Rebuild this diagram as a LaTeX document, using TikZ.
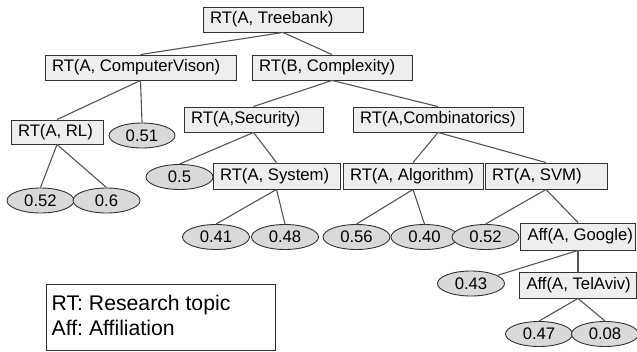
\documentclass[tikz,border=0pt]{standalone}
\usepackage{fontspec}
\setmainfont[Ligatures=CommonOff]{Liberation Sans}
\usetikzlibrary{shapes.geometric}
\definecolor{edgec}{HTML}{555555}
\definecolor{linec}{HTML}{333333}
\definecolor{boxf}{HTML}{EEEEEE}
\definecolor{ellf}{HTML}{D9D9D9}
\frenchspacing
\newcommand\lbtext[2]{\makebox[\dimexpr#1-14pt\relax][l]{#2}}
\begin{document}
\begin{tikzpicture}[x=1pt,y=-1pt,
  every node/.style={font=\fontsize{16.7}{19}\selectfont},
  tbox/.style={draw=linec,line width=0.9pt,fill=boxf,rectangle,inner xsep=7pt,inner ysep=0pt,minimum height=25pt},
  tell/.style={draw=linec,line width=0.9pt,fill=ellf,ellipse,inner sep=0pt,minimum width=67pt,minimum height=25pt},
  edge/.style={draw=edgec,line width=1.1pt}]
\useasboundingbox (0,0) rectangle (637,351);
\node[tbox] (tb) at (283,19.5) {\lbtext{160pt}{RT(A, Treebank)}};
\node[tbox] (cv) at (140.5,67.5) {\lbtext{191pt}{RT(A, ComputerVison)}};
\node[tbox] (cx) at (332,67.5) {\lbtext{160pt}{RT(B, Complexity)}};
\node[tbox] (sec) at (253.5,119.5) {\lbtext{139pt}{RT(A,Security)}};
\node[tbox] (comb) at (438,119.5) {\lbtext{170pt}{RT(A,Combinatorics)}};
\node[tbox,minimum height=24pt] (rl) at (57,132) {\lbtext{92pt}{RT(A, RL)}};
\node[tbox,minimum height=26pt] (sys) at (276.5,176) {\lbtext{127pt}{RT(A, System)}};
\node[tbox,minimum height=26pt] (alg) at (413,176) {\lbtext{140pt}{RT(A, Algorithm)}};
\node[tbox,minimum height=26pt] (svm) at (546,176) {\lbtext{122pt}{RT(A, SVM)}};
\node[tbox,minimum height=27pt] (goo) at (578,236.5) {\lbtext{115pt}{Aff(A, Google)}};
\node[tbox,minimum height=26pt] (tel) at (578,285) {\lbtext{117pt}{Aff(A, TelAviv)}};
\node[tell,minimum width=66pt] (e051) at (142,135.5) {0.51};
\node[tell] (e05) at (179.5,177) {0.5};
\node[tell] (e052a) at (40.5,200.5) {0.52};
\node[tell] (e06) at (106.5,200.5) {0.6};
\node[tell] (e041) at (216,237) {0.41};
\node[tell] (e048) at (285,237) {0.48};
\node[tell] (e056) at (356.5,237) {0.56};
\node[tell] (e040) at (424.5,237) {0.40};
\node[tell] (e052b) at (485.5,237) {0.52};
\node[tell] (e043) at (471,283.5) {0.43};
\node[tell] (e047) at (539,334) {0.47};
\node[tell] (e008) at (605,334) {0.08};
\path[edge] (tb.south) -- (cv.north);
\path[edge] (tb.south) -- (cx.north);
\path[edge] (cv.south) -- (rl.north);
\path[edge] (cv.south) -- (e051.north);
\path[edge] (cx.south) -- (sec.north);
\path[edge] (cx.south) -- (comb.north);
\path[edge] (rl.south) -- (e052a.north);
\path[edge] (rl.south) -- (e06.north);
\path[edge] (sec.south) -- (e05.north);
\path[edge] (sec.south) -- (sys.north);
\path[edge] (comb.south) -- (alg.north);
\path[edge] (comb.south) -- (svm.north);
\path[edge] (sys.south) -- (e041.north);
\path[edge] (sys.south) -- (e048.north);
\path[edge] (alg.south) -- (e056.north);
\path[edge] (alg.south) -- (e040.north);
\path[edge] (svm.south) -- (e052b.north);
\path[edge] (svm.south) -- (goo.north);
\path[edge] (goo.south) -- (e043);
\path[edge] (goo.south) -- (goo.south |- tel.north);
\path[edge] (tel.south) -- (e047.north);
\path[edge] (tel.south) -- (e008.north);
\node[draw=linec,line width=0.9pt,rectangle,minimum width=229pt,minimum height=66pt,inner sep=0pt] (leg) at (160.5,317) {};
\node[anchor=north west,align=left,inner sep=0pt,font=\fontsize{21.2}{25}\selectfont] (legtxt) at (51.5,294.5) {RT: Research topic\\Aff: Affiliation};
\end{tikzpicture}
\end{document}
